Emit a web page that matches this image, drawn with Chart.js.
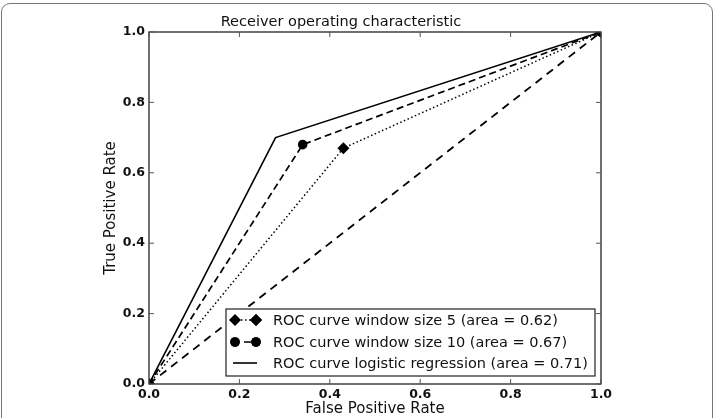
<!DOCTYPE html>
<html>
<head>
<meta charset="utf-8">
<script src="https://cdn.jsdelivr.net/npm/chart.js@4.4.0/dist/chart.umd.min.js"></script>
<style>
  html, body { margin: 0; padding: 0; background: #fff; }
  #wrap { position: relative; width: 719px; height: 418px; }
  #frame { position: absolute; left: 1px; top: 3px; width: 712px; height: 430px;
           border: 1.5px solid #777; border-radius: 9px; box-sizing: border-box; }
  canvas { position: absolute; left: 0; top: 0; }
</style>
</head>
<body>
<div id="wrap">
  <div id="frame"></div>
  <canvas id="roc" width="719" height="418"></canvas>
</div>
<script>
// ROC points
const fprWindow5 = [0, 0.43, 1];
const tprWindow5 = [0, 0.67, 1];
const fprWindow10 = [0, 0.34, 1];
const tprWindow10 = [0, 0.68, 1];
const fprLogistic = [0, 0.28, 1];
const tprLogistic = [0, 0.70, 1];
const fprChance = [0, 1];
const tprChance = [0, 1];
const tickValues = [0, 0.2, 0.4, 0.6, 0.8, 1.0];
const legendLabels = [
  'ROC curve window size 5 (area = 0.62)',
  'ROC curve window size 10 (area = 0.67)',
  'ROC curve logistic regression (area = 0.71)'
];

const toPoints = (xs, ys) => xs.map((x, i) => ({ x: x, y: ys[i] }));

// box, inward ticks on all sides, title and legend
const decorations = {
  id: 'decorations',
  afterDraw(chart) {
    const ctx = chart.ctx;
    const a = chart.chartArea;
    const xs = chart.scales.x, ys = chart.scales.y;
    ctx.save();
    ctx.strokeStyle = '#111';
    ctx.lineWidth = 1.2;
    ctx.strokeRect(a.left, a.top, a.right - a.left, a.bottom - a.top);
    ctx.lineWidth = 1;
    ctx.strokeStyle = '#555';
    tickValues.forEach(v => {
      const px = xs.getPixelForValue(v);
      const py = ys.getPixelForValue(v);
      ctx.beginPath();
      ctx.moveTo(px, a.bottom); ctx.lineTo(px, a.bottom - 5);
      ctx.moveTo(px, a.top); ctx.lineTo(px, a.top + 5);
      ctx.moveTo(a.left, py); ctx.lineTo(a.left + 5, py);
      ctx.moveTo(a.right, py); ctx.lineTo(a.right - 5, py);
      ctx.stroke();
    });

    // title
    ctx.fillStyle = '#111';
    ctx.font = '14.5px "DejaVu Sans"';
    ctx.textAlign = 'center';
    ctx.textBaseline = 'middle';
    ctx.fillText('Receiver operating characteristic', 341, 22);

    // legend
    const bx = 226, by = 309, bw = 369, bh = 67;
    ctx.fillStyle = '#fff';
    ctx.fillRect(bx, by, bw, bh);
    ctx.strokeStyle = '#222';
    ctx.lineWidth = 1.2;
    ctx.strokeRect(bx, by, bw, bh);
    const rows = [320, 342, 363];
    chart.data.datasets.slice(0, 3).forEach((ds, i) => {
      const y = rows[i];
      ctx.strokeStyle = ds.borderColor;
      ctx.lineWidth = ds.borderWidth;
      ctx.setLineDash(ds.borderDash || []);
      ctx.beginPath();
      ctx.moveTo(233, y); ctx.lineTo(257, y);
      ctx.stroke();
      ctx.setLineDash([]);
      if (ds.pointRadius > 0) {
        [235, 256].forEach(mx => {
          Chart.helpers.drawPoint(ctx, {
            pointStyle: ds.pointStyle, radius: ds.pointRadius, rotation: 0, borderWidth: 0
          }, mx, y);
          ctx.fillStyle = '#000';
          ctx.fill();
        });
      }
      ctx.fillStyle = '#111';
      ctx.font = '14.5px "DejaVu Sans"';
      ctx.textAlign = 'left';
      ctx.fillText(legendLabels[i], 273, y + 1);
    });
    ctx.restore();
  }
};

new Chart(document.getElementById('roc'), {
  type: 'scatter',
  data: {
    datasets: [
      {
        label: legendLabels[0],
        data: toPoints(fprWindow5, tprWindow5),
        showLine: true,
        borderColor: '#000',
        backgroundColor: '#000',
        borderWidth: 1.5,
        borderDash: [1.5, 2.5],
        pointStyle: 'rectRot',
        pointRadius: 6,
        pointBorderWidth: 0
      },
      {
        label: legendLabels[1],
        data: toPoints(fprWindow10, tprWindow10),
        showLine: true,
        borderColor: '#000',
        backgroundColor: '#000',
        borderWidth: 1.7,
        borderDash: [7, 4],
        pointStyle: 'circle',
        pointRadius: 4.8,
        pointBorderWidth: 0
      },
      {
        label: legendLabels[2],
        data: toPoints(fprLogistic, tprLogistic),
        showLine: true,
        borderColor: '#000',
        backgroundColor: '#000',
        borderWidth: 1.6,
        pointRadius: 0
      },
      {
        label: 'chance',
        data: toPoints(fprChance, tprChance),
        showLine: true,
        borderColor: '#000',
        backgroundColor: '#000',
        borderWidth: 1.8,
        borderDash: [8, 6],
        pointRadius: 0
      }
    ]
  },
  options: {
    responsive: false,
    animation: false,
    layout: { padding: { left: 95, right: 118, top: 32, bottom: 0 } },
    plugins: {
      legend: { display: false },
      title: { display: false },
      tooltip: { enabled: false }
    },
    scales: {
      x: {
        type: 'linear',
        min: 0, max: 1,
        afterFit: s => { s.height = 34; },
        afterBuildTicks: s => { s.ticks = tickValues.map(v => ({ value: v })); },
        grid: { display: false, drawTicks: false },
        border: { display: false },
        ticks: {
          padding: 3,
          color: '#111',
          font: { family: 'DejaVu Sans', size: 12.5, weight: 'bold' },
          callback: v => v.toFixed(1),
          maxRotation: 0
        },
        title: {
          display: true,
          text: 'False Positive Rate',
          color: '#111',
          font: { family: 'DejaVu Sans', size: 15 },
          padding: { top: 0, bottom: 0 }
        }
      },
      y: {
        type: 'linear',
        min: 0, max: 1,
        afterFit: s => { s.width = 54; },
        afterBuildTicks: s => { s.ticks = tickValues.map(v => ({ value: v })); },
        grid: { display: false, drawTicks: false },
        border: { display: false },
        ticks: {
          padding: 4,
          color: '#111',
          font: { family: 'DejaVu Sans', size: 12.5, weight: 'bold' },
          callback: v => v.toFixed(1)
        },
        title: {
          display: true,
          text: 'True Positive Rate',
          color: '#111',
          font: { family: 'DejaVu Sans', size: 15 },
          padding: { top: 7, bottom: 0 }
        }
      }
    }
  },
  plugins: [decorations]
});
</script>
</body>
</html>
